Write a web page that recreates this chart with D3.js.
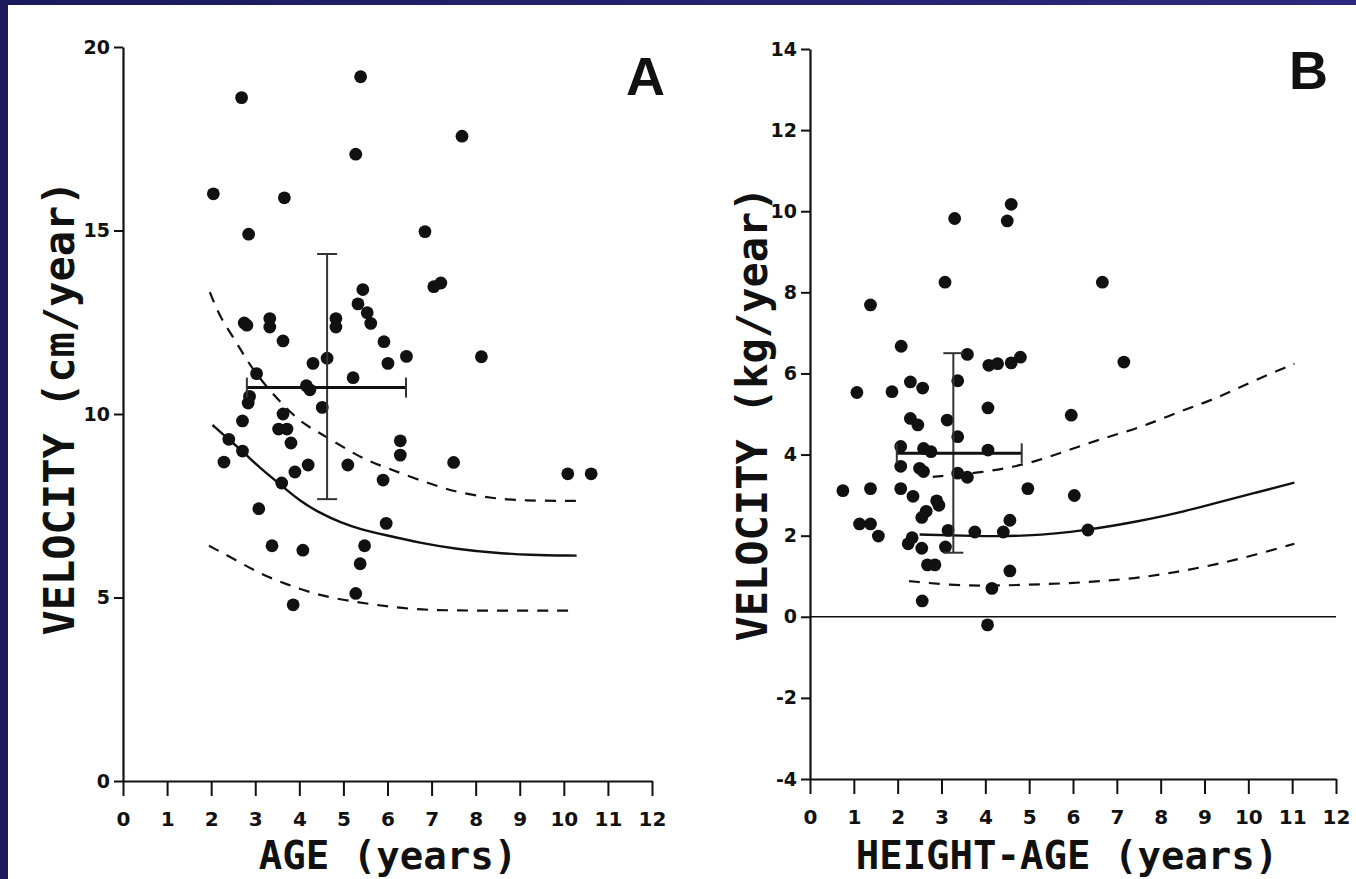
<!DOCTYPE html>
<html><head><meta charset="utf-8">
<script src="https://cdn.jsdelivr.net/npm/d3@7/dist/d3.min.js"></script>
<style>html,body{margin:0;padding:0;background:#1c1b5e;}svg{display:block;}</style>
</head><body>
<svg id="chart" width="1356" height="879"></svg>
<script>
// ---------- DATA ----------
// Panel A: growth velocity (cm/year) vs age (years)
const ageA = [2.05,2.69,5.39,5.28,7.69,3.66,2.85,6.85,7.05,7.21,5.44,5.33,5.54,5.62,2.75,2.81,3.33,3.33,4.83,4.83,3.63,5.92,6.43,8.13,4.31,4.63,6.01,3.03,5.22,4.16,4.24,2.87,2.84,4.52,3.63,2.71,3.53,3.72,3.81,2.40,2.71,2.29,4.20,3.90,5.10,3.60,6.29,6.29,7.50,5.90,10.09,10.62,3.08,5.97,3.38,4.08,5.48,5.38,5.28,3.86];
const velA = [16.0,18.62,19.19,17.08,17.57,15.89,14.9,14.97,13.47,13.57,13.39,13.0,12.76,12.47,12.48,12.42,12.6,12.37,12.6,12.37,11.99,11.97,11.57,11.56,11.38,11.52,11.38,11.1,10.99,10.77,10.66,10.48,10.3,10.18,10.0,9.81,9.59,9.59,9.21,9.31,8.99,8.69,8.61,8.42,8.61,8.12,9.27,8.88,8.68,8.2,8.37,8.37,7.42,7.02,6.41,6.29,6.41,5.92,5.11,4.80];
// Panel A reference curves
const curveA_mid_x = [2.03,2.43,2.72,3.11,3.53,4.02,4.47,4.92,5.38,5.96,6.77,7.58,8.39,9.20,10.29];
const curveA_mid_y = [9.70,9.27,8.98,8.52,8.12,7.62,7.30,7.05,6.86,6.70,6.48,6.32,6.22,6.16,6.14];
const curveA_hi_x = [1.97,2.20,2.47,2.70,2.95,3.38,3.68,4.06,4.54,4.99,5.49,5.99,6.58,7.19,7.58,8.39,9.04,10.34];
const curveA_hi_y = [13.32,12.64,12.15,11.69,11.20,10.57,10.19,9.75,9.43,9.10,8.75,8.53,8.26,8.01,7.87,7.70,7.64,7.63];
const curveA_lo_x = [1.95,2.56,3.12,3.69,4.30,4.99,5.72,6.45,7.26,10.17];
const curveA_lo_y = [6.41,6.02,5.64,5.37,5.11,4.93,4.80,4.69,4.64,4.64];
// Panel A mean ± SD
const meanA = [4.63, 10.72];
const sdA_x = [2.81, 6.42];
const sdA_y = [7.68, 14.36];

// Panel B: weight velocity (kg/year) vs height-age (years)
const ageB = [1.07,1.38,1.87,2.08,2.29,2.57,3.08,3.30,3.59,3.37,4.06,4.08,4.28,4.59,4.80,4.50,4.59,5.96,6.67,7.16,2.29,2.46,3.13,3.37,2.07,2.59,2.76,4.06,2.07,2.50,2.59,3.37,3.59,0.75,1.38,2.07,2.35,4.97,6.03,2.89,2.94,2.65,2.55,1.13,1.38,1.56,3.15,3.76,4.41,4.56,6.34,2.33,2.24,2.55,3.09,2.68,2.85,4.56,4.15,2.56,4.05];
const velB = [5.53,7.69,5.55,6.67,5.79,5.64,8.25,9.82,6.47,5.82,5.15,6.2,6.24,6.26,6.4,9.76,10.17,4.97,8.25,6.28,4.89,4.73,4.85,4.44,4.2,4.15,4.07,4.11,3.71,3.66,3.58,3.54,3.44,3.11,3.16,3.16,2.97,3.16,2.99,2.86,2.75,2.6,2.45,2.29,2.29,1.99,2.13,2.09,2.09,2.38,2.14,1.95,1.8,1.69,1.72,1.28,1.28,1.13,0.70,0.39,-0.2];
const curveB_mid_x = [2.50,3.71,4.93,6.32,7.53,8.40,9.27,10.14,11.05];
const curveB_mid_y = [2.03,1.99,1.98,2.13,2.36,2.56,2.81,3.05,3.31];
const curveB_hi_x = [2.80,3.90,4.93,5.80,6.67,7.53,8.40,9.27,10.14,11.05];
const curveB_hi_y = [3.45,3.55,3.75,4.07,4.40,4.66,5.05,5.38,5.83,6.24];
const curveB_lo_x = [2.26,3.20,4.06,4.93,5.80,6.67,7.53,8.40,9.27,10.14,11.05];
const curveB_lo_y = [0.88,0.78,0.76,0.79,0.82,0.88,0.96,1.11,1.29,1.52,1.80];
const meanB = [3.27, 4.03];
const sdB_x = [1.98, 4.83];
const sdB_y = [1.58, 6.50];

const xTicks = [0,1,2,3,4,5,6,7,8,9,10,11,12];
const yTicksA = [0,5,10,15,20];
const yTicksB = [-4,-2,0,2,4,6,8,10,12,14];

// ---------- DRAWING ----------
const svg = d3.select("#chart");
const defs = svg.append("defs");
const grad = defs.append("linearGradient").attr("id","frame").attr("x1","0").attr("x2","1").attr("y1","0").attr("y2","0");
grad.append("stop").attr("offset","0").attr("stop-color","#1b1a5c");
grad.append("stop").attr("offset","1").attr("stop-color","#2b2a7e");
svg.append("rect").attr("width",1356).attr("height",879).attr("fill","url(#frame)");
svg.append("rect").attr("x",8).attr("y",5).attr("width",1348).attr("height",874).attr("fill","#ffffff");

const ink = "#111";
const tickFont = "DejaVu Sans, sans-serif";
const titleFont = "DejaVu Sans Mono, monospace";

function panel(cfg){
  const g = svg.append("g");
  const x = d3.scaleLinear().domain([0,12]).range(cfg.xr);
  const y = d3.scaleLinear().domain(cfg.yd).range(cfg.yr);

  if (cfg.zeroLine){
    g.append("line").attr("x1",x(0)).attr("x2",x(12)).attr("y1",y(0)).attr("y2",y(0))
      .attr("stroke",ink).attr("stroke-width",1.6);
  }

  const fmt = d => String(d);
  const xa = g.append("g").attr("transform",`translate(0,${y(cfg.yd[0])})`)
    .call(d3.axisBottom(x).tickValues(xTicks).tickFormat(fmt).tickSize(15).tickSizeOuter(0).tickPadding(16));
  const ya = g.append("g").attr("transform",`translate(${x(0)},0)`)
    .call(d3.axisLeft(y).tickValues(cfg.yTicks).tickFormat(fmt).tickSize(9).tickSizeOuter(0).tickPadding(4));
  [xa,ya].forEach(a=>{
    a.selectAll("path.domain").attr("stroke",ink).attr("stroke-width",2.2);
    a.selectAll(".tick line").attr("stroke",ink).attr("stroke-width",2);
  });
  xa.selectAll("text").attr("font-family",tickFont).attr("font-weight","bold").attr("font-size",20).attr("fill",ink);
  ya.selectAll("text").attr("font-family",tickFont).attr("font-weight","bold").attr("font-size",19).attr("fill",ink);

  const line = d3.line().x(d=>x(d[0])).y(d=>y(d[1])).curve(d3.curveBasis);
  const zipped = (xs,ys)=>xs.map((v,i)=>[v,ys[i]]);
  g.append("path").datum(zipped(cfg.mid[0],cfg.mid[1])).attr("d",line)
    .attr("fill","none").attr("stroke",ink).attr("stroke-width",2.4);
  [cfg.hi,cfg.lo].forEach(c=>{
    g.append("path").datum(zipped(c[0],c[1])).attr("d",line)
      .attr("fill","none").attr("stroke",ink).attr("stroke-width",2.2).attr("stroke-dasharray","11,9");
  });

  g.selectAll("circle.pt").data(zipped(cfg.px,cfg.py)).join("circle")
    .attr("class","pt").attr("cx",d=>x(d[0])).attr("cy",d=>y(d[1])).attr("r",6.4).attr("fill",ink);

  const m = cfg.mean;
  const cap = 10;
  g.append("line").attr("x1",x(m[0])).attr("x2",x(m[0])).attr("y1",y(cfg.sdy[0])).attr("y2",y(cfg.sdy[1]))
    .attr("stroke","#333").attr("stroke-width",2);
  g.append("line").attr("x1",x(m[0])-cap).attr("x2",x(m[0])+cap).attr("y1",y(cfg.sdy[1])).attr("y2",y(cfg.sdy[1]))
    .attr("stroke","#333").attr("stroke-width",2);
  g.append("line").attr("x1",x(m[0])-cap).attr("x2",x(m[0])+cap).attr("y1",y(cfg.sdy[0])).attr("y2",y(cfg.sdy[0]))
    .attr("stroke","#333").attr("stroke-width",2);
  g.append("line").attr("x1",x(cfg.sdx[0])).attr("x2",x(cfg.sdx[1])).attr("y1",y(m[1])).attr("y2",y(m[1]))
    .attr("stroke",ink).attr("stroke-width",3);
  [cfg.sdx[0],cfg.sdx[1]].forEach(v=>{
    g.append("line").attr("x1",x(v)).attr("x2",x(v)).attr("y1",y(m[1])-cap).attr("y2",y(m[1])+cap)
      .attr("stroke","#333").attr("stroke-width",2);
  });

  g.append("text").attr("x",cfg.xtPos[0]).attr("y",cfg.xtPos[1]).attr("text-anchor","middle")
    .attr("font-family",titleFont).attr("font-weight","bold").attr("font-size",39).attr("fill",ink)
    .text(cfg.xTitle);
  g.append("text").attr("transform",`translate(${cfg.ytPos[0]},${cfg.ytPos[1]}) rotate(-90)`).attr("text-anchor","middle")
    .attr("font-family",titleFont).attr("font-weight","bold").attr("font-size",42).attr("fill",ink)
    .text(cfg.yTitle);
  g.append("text").attr("x",cfg.letterPos[0]).attr("y",cfg.letterPos[1])
    .attr("font-family","Liberation Sans, Arial, sans-serif").attr("font-weight","bold").attr("font-size",54).attr("fill",ink)
    .text(cfg.letter);
}

panel({
  xr:[123,652], yd:[0,20], yr:[781,47], yTicks:yTicksA,
  px:ageA, py:velA,
  mid:[curveA_mid_x,curveA_mid_y], hi:[curveA_hi_x,curveA_hi_y], lo:[curveA_lo_x,curveA_lo_y],
  mean:meanA, sdx:sdA_x, sdy:sdA_y,
  xTitle:"AGE (years)", yTitle:"VELOCITY (cm/year)",
  xtPos:[388,869], ytPos:[74,408], letter:"A", letterPos:[626,95]
});
panel({
  xr:[810,1336], yd:[-4,14], yr:[779,49], yTicks:yTicksB, zeroLine:true,
  px:ageB, py:velB,
  mid:[curveB_mid_x,curveB_mid_y], hi:[curveB_hi_x,curveB_hi_y], lo:[curveB_lo_x,curveB_lo_y],
  mean:meanB, sdx:sdB_x, sdy:sdB_y,
  xTitle:"HEIGHT-AGE (years)", yTitle:"VELOCITY (kg/year)",
  xtPos:[1067,869], ytPos:[767,414], letter:"B", letterPos:[1289,89]
});
</script>
</body></html>
